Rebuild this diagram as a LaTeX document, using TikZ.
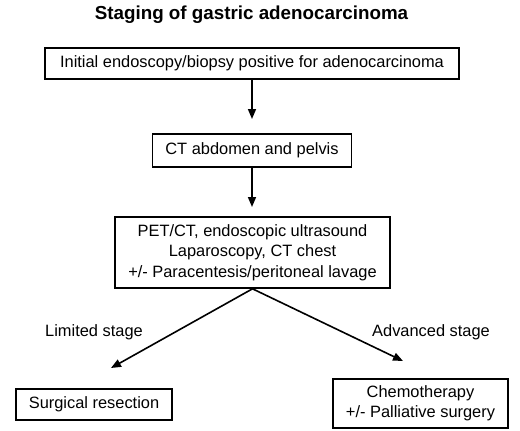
\documentclass[tikz,border=0pt]{standalone}
\usepackage{fontspec}
\setmainfont{Liberation Sans}
\usetikzlibrary{arrows.meta}
\tikzset{
  box/.style={draw=black, line width=1.6pt, inner sep=0pt, align=center,
    font=\fontsize{16.4}{20.5}\selectfont},
  lbl/.style={inner sep=0pt, font=\fontsize{16.4}{20}\selectfont},
  conn/.style={line width=1.6pt, -{Triangle[length=10pt,width=8pt]}}
}
\begin{document}
\begin{tikzpicture}[x=1pt,y=-1pt]
\useasboundingbox (0,0) rectangle (520,431);
\node[inner sep=0pt, font=\fontsize{18.8}{22}\selectfont\bfseries] (title) at (251.5,15) {Staging of gastric adenocarcinoma};
\node[box, minimum width=414pt, minimum height=31pt] (b1) at (252,63.5) {Initial endoscopy/biopsy positive for adenocarcinoma};
\node[box, minimum width=199pt, minimum height=33pt] (b2) at (252,150.5) {CT abdomen and pelvis};
\node[box, minimum width=275pt, minimum height=71pt] (b3) at (252.5,252.5) {PET/CT, endoscopic ultrasound\\Laparoscopy, CT chest\\+/- Paracentesis/peritoneal lavage};
\node[box, minimum width=156pt, minimum height=31pt] (b4) at (94,404.5) {Surgical resection};
\node[box, minimum width=175pt, minimum height=49pt] (b5) at (420.5,403.5) {Chemotherapy\\+/- Palliative surgery};
\node[lbl] (l1) at (94,332) {Limited stage};
\node[lbl] (l2) at (431,332) {Advanced stage};
\coordinate (t1) at (252,119);
\coordinate (t2) at (252,207);
\coordinate (tl) at (111,368);
\coordinate (tr) at (403,361);
\draw[conn] (b1.south) -- (t1);
\draw[conn] (b2.south) -- (t2);
\draw[conn] (b3.south) -- (tl);
\draw[conn] (b3.south) -- (tr);
\end{tikzpicture}
\end{document}
